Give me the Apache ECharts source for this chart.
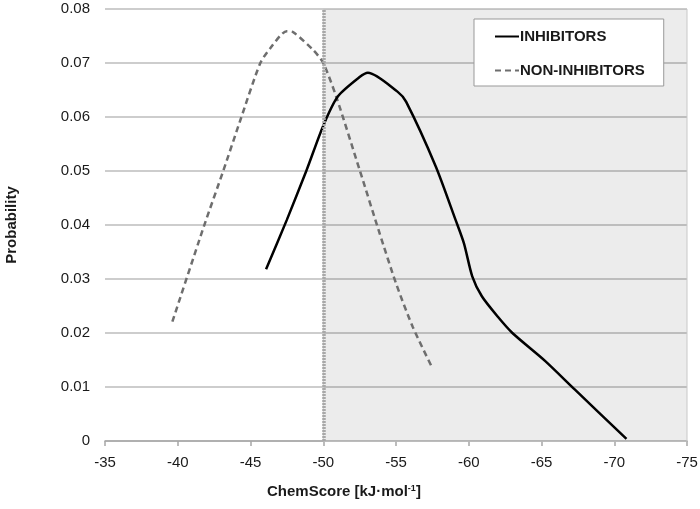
<!DOCTYPE html>
<html>
<head>
<meta charset="utf-8">
<script src="https://cdn.jsdelivr.net/npm/echarts@6/dist/echarts.min.js"></script>
<style>html,body{margin:0;padding:0;background:#fff}#c{width:700px;height:509px}</style>
</head>
<body>
<div id="c"></div>
<script>
// Data
var xTicks = [-35, -40, -45, -50, -55, -60, -65, -70, -75];
var yTicks = [0, 0.01, 0.02, 0.03, 0.04, 0.05, 0.06, 0.07, 0.08];
var inhibitorsX = [-46.07, -47.49, -48.86, -50.0, -51.0, -52.5, -53.07, -55.1, -55.7, -57.74, -59.1, -59.67, -60.24, -60.9, -62.0, -63.0, -65.26, -67.3, -70.84];
var inhibitorsY = [0.0318, 0.0409, 0.0502, 0.0584, 0.0638, 0.0674, 0.0682, 0.0647, 0.0628, 0.0508, 0.0409, 0.0366, 0.0305, 0.0268, 0.0230, 0.0200, 0.0148, 0.0095, 0.0004];
var nonInhibitorsX = [-39.63, -41.79, -43.15, -44.3, -45.66, -46.35, -47.49, -47.94, -49.31, -50.0, -50.9, -52.5, -53.87, -55.0, -56.14, -57.5];
var nonInhibitorsY = [0.0221, 0.0397, 0.0502, 0.0594, 0.0699, 0.0727, 0.0759, 0.0757, 0.0724, 0.0700, 0.0637, 0.0502, 0.0385, 0.0292, 0.0212, 0.0135];
var thresholdX = -50;
var shadeFrom = -50, shadeTo = -75;

function pairs(xs, ys) { return xs.map(function (x, i) { return [x, ys[i]]; }); }

var FONT = 'Liberation Sans';
var chart = echarts.init(document.getElementById('c'));
chart.setOption({
  animation: false,
  backgroundColor: '#fff',
  textStyle: { fontFamily: FONT },
  grid: { left: 105, right: 13, top: 9, bottom: 68, containLabel: false, outerBoundsMode: 'none' },
  legend: {
    orient: 'vertical',
    left: 474, top: 19,
    padding: [10, 19, 8, 20],
    itemGap: 19,
    itemWidth: 24, itemHeight: 15,
    backgroundColor: '#fff',
    borderColor: '#999', borderWidth: 1,
    itemStyle: { opacity: 0 },
    textStyle: { fontFamily: FONT, fontSize: 15, fontWeight: 'bold', color: '#1a1a1a', padding: [0, 0, 0, -4] },
    data: ['INHIBITORS', 'NON-INHIBITORS']
  },
  graphic: [{
    type: 'text', left: 267, top: 484,
    style: {
      text: '{b|ChemScore [kJ·mol}{s|-1}{b|]}',
      rich: {
        b: { fontFamily: FONT, fontSize: 15, fontWeight: 'bold', fill: '#1a1a1a' },
        s: { fontFamily: FONT, fontSize: 9, fontWeight: 'bold', fill: '#1a1a1a', verticalAlign: 'top', padding: [0, 0, 7, 0] }
      }
    }
  }],
  xAxis: {
    type: 'value', inverse: true, min: -75, max: -35, interval: 5,
    axisLine: { show: true, lineStyle: { color: '#a6a6a6', width: 1.5 } },
    axisTick: { show: true, length: 5, inside: false, lineStyle: { color: '#a6a6a6', width: 1.5 } },
    axisLabel: { fontFamily: FONT, fontSize: 15, color: '#1a1a1a', margin: 14,
      formatter: function (v) { return xTicks.indexOf(v) >= 0 ? String(v) : ''; } },
    splitLine: { show: false }
  },
  yAxis: {
    type: 'value', min: 0, max: 0.08, interval: 0.01,
    name: 'Probability', nameLocation: 'middle', nameGap: 86,
    nameTextStyle: { fontFamily: FONT, fontSize: 15, fontWeight: 'bold', color: '#1a1a1a' },
    axisLine: { show: false }, axisTick: { show: false },
    axisLabel: { fontFamily: FONT, fontSize: 15, color: '#1a1a1a', margin: 15,
      formatter: function (v) {
        for (var i = 0; i < yTicks.length; i++) if (Math.abs(yTicks[i] - v) < 1e-9) return i === 0 ? '0' : yTicks[i].toFixed(2);
        return '';
      } },
    splitLine: { show: true, lineStyle: { color: '#bdbdbd', width: 1.5 } }
  },
  series: [
    {
      name: 'INHIBITORS', type: 'line', data: pairs(inhibitorsX, inhibitorsY),
      smooth: 0.25, symbol: 'none', z: 4,
      lineStyle: { color: '#000', width: 2.5 },
      itemStyle: { color: '#000' },
      markArea: {
        silent: true,
        itemStyle: { color: 'rgba(0,0,0,0.075)', borderColor: '#c8c8c8', borderWidth: 1 },
        data: [[{ xAxis: shadeFrom, yAxis: 0 }, { xAxis: shadeTo, yAxis: 0.08 }]]
      },
      markLine: {
        silent: true, symbol: 'none', label: { show: false },
        lineStyle: { color: '#a8a8a8', width: 3.5, type: [2, 1] },
        data: [{ xAxis: thresholdX }]
      }
    },
    {
      name: 'NON-INHIBITORS', type: 'line', data: pairs(nonInhibitorsX, nonInhibitorsY),
      smooth: 0.25, symbol: 'none', z: 3,
      lineStyle: { color: '#6e6e6e', width: 2.5, type: [6, 4] },
      itemStyle: { color: '#6e6e6e' }
    }
  ]
});
</script>
</body>
</html>
